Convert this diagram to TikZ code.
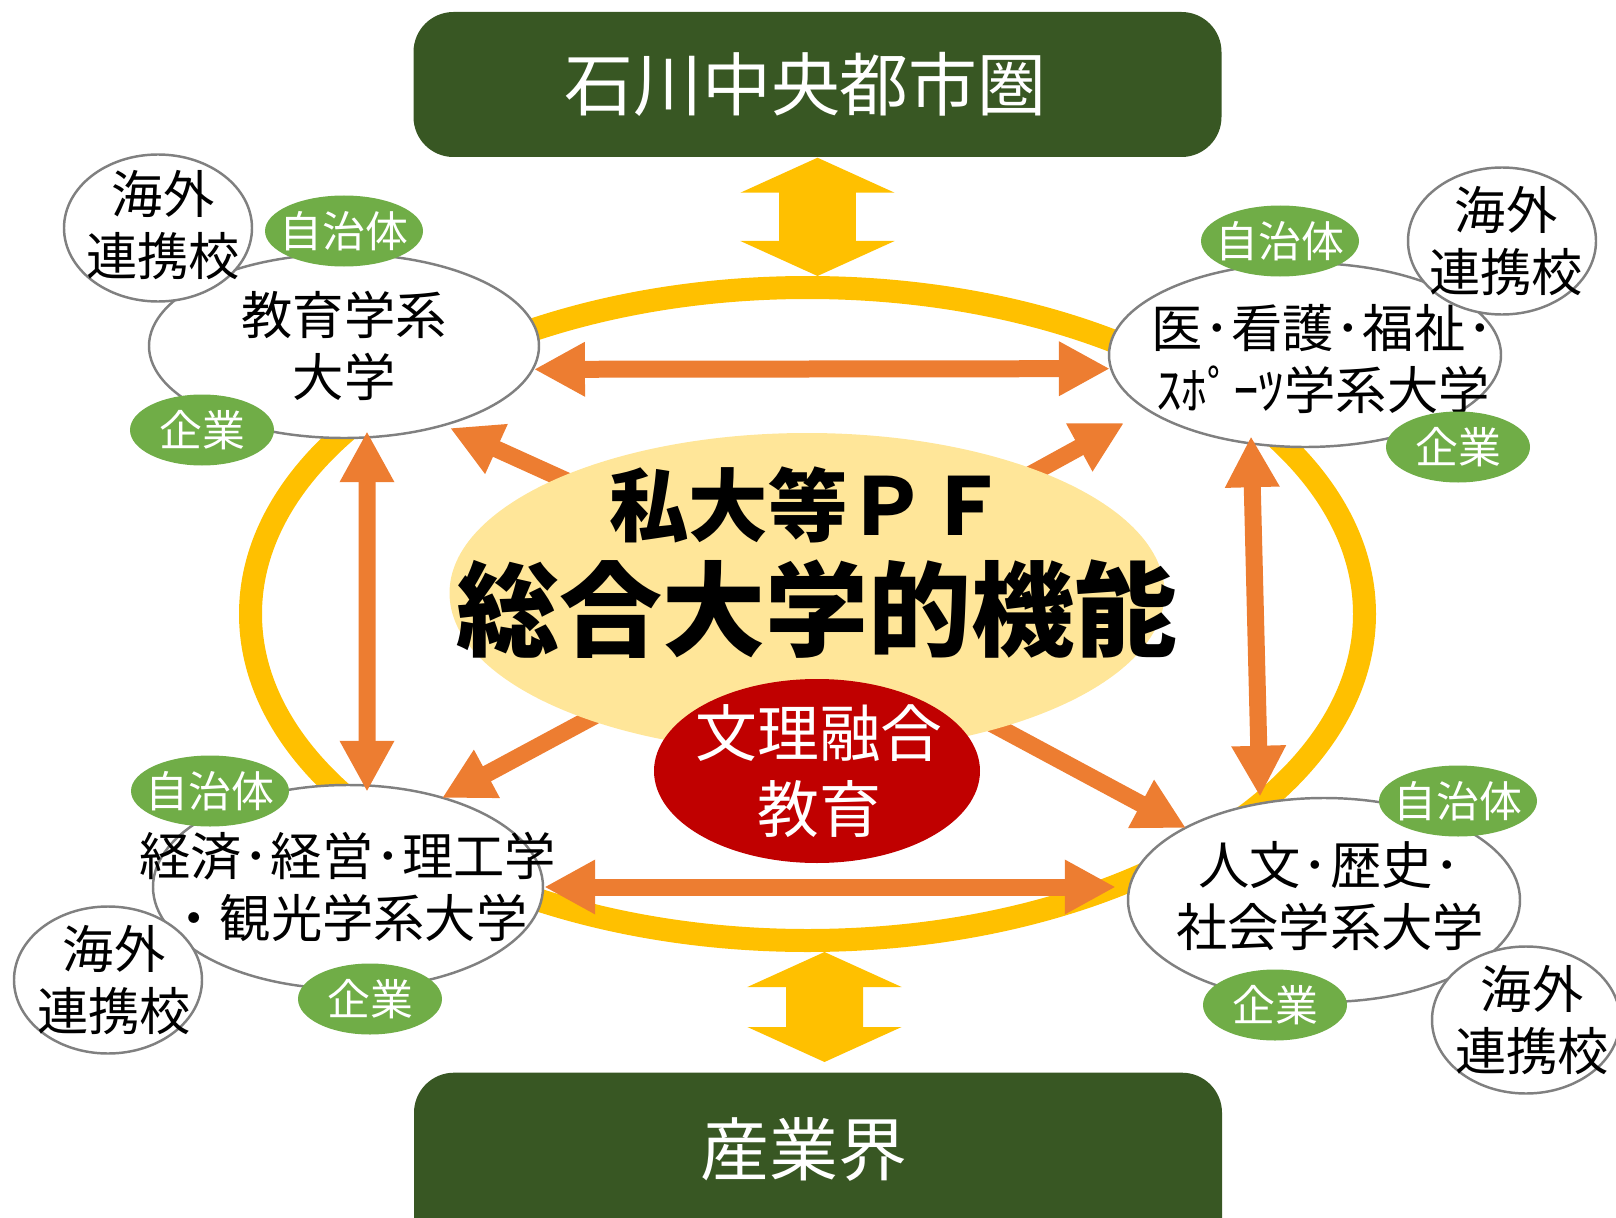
\documentclass[tikz,border=0pt]{standalone}
\usepackage{fontspec}
\setmainfont{Noto Sans CJK JP}
\usepackage{tikz}
\usetikzlibrary{
        arrows.meta,
        shapes.geometric
    }
\definecolor{boxgreen}{HTML}{385723}
\definecolor{ringyellow}{HTML}{FFC000}
\definecolor{arroworange}{HTML}{ED7D31}
\definecolor{pfyellow}{HTML}{FFE699}
\definecolor{bunrired}{HTML}{C00000}
\definecolor{leafgreen}{HTML}{70AD47}
\definecolor{rimgray}{HTML}{808080}
\newcommand{\nk}{\kern0.03em ･\kern0.03em}
\tikzset{
    region/.style={rectangle,rounded corners=0.4cm,fill=boxgreen,minimum width=8.08cm},
    boxtext/.style={text=white,inner sep=0pt,font=\fontsize{19.6}{24}\selectfont},
    univ/.style={ellipse,draw=rimgray,line width=0.7pt,fill=white,inner sep=0pt,minimum width=3.9cm},
    univtext/.style={align=center,inner sep=0pt,font=\fontsize{14.6}{17.6}\selectfont},
    kaigai/.style={ellipse,draw=rimgray,line width=0.7pt,fill=white,inner sep=0pt,minimum width=1.88cm,minimum height=1.47cm},
    leaf/.style={ellipse,fill=leafgreen,inner sep=0pt,minimum width=1.58cm,minimum height=0.71cm},
    leaftext/.style={text=white,inner sep=0pt,font=\fontsize{12.2}{14}\selectfont},
    updown/.style={ringyellow,line width=0.77cm,{Triangle[width=1.53cm,length=0.35cm]}-{Triangle[width=1.53cm,length=0.35cm]}},
    oboth/.style={arroworange,line width=0.17cm,{Triangle[width=0.51cm,length=0.51cm]}-{Triangle[width=0.51cm,length=0.51cm]}},
    oone/.style={arroworange,line width=0.17cm,shorten <=-0.2cm,-{Triangle[width=0.51cm,length=0.51cm]}}
}
\begin{document}
\begin{tikzpicture}
        \useasboundingbox (0,0) rectangle (16.16,12.17);
        \node[draw=ringyellow,line width=0.23cm,ellipse,inner sep=0pt,minimum width=11.14cm,minimum height=6.53cm] (ring) at (8.075,6.03) {};
        \node[region,minimum height=1.45cm,label={[boxtext,xshift=-0.12cm]center:石川中央都市圏}] (toshi) at (8.175,11.325) {};
        \node[region,minimum height=1.9cm,anchor=north,label={[boxtext,xshift=-0.14cm,yshift=0.18cm]center:産業界}] (sangyo) at (8.18,1.45) {};
        \draw[updown] (toshi.south) -- ([xshift=0.1cm]ring.north);
        \draw[updown] ([xshift=0.065cm,yshift=0.1cm]sangyo.north) -- ([xshift=0.17cm]ring.south);

        \node[univ,minimum height=1.84cm,label={[univtext]center:教育学系\\大学}] (kyoiku) at (3.44,8.71) {};
        \node[univ,minimum width=3.92cm,minimum height=1.84cm,label={[univtext,xshift=0.18cm,yshift=-0.04cm]center:医\nk{}看護\nk{}福祉\nk{}\\ｽﾎﾟｰﾂ学系大学}] (ikango) at (13.05,8.62) {};
        \node[univ,minimum height=2.04cm,label={[univtext]center:経済\nk{}経営\nk{}理工学\\・観光学系大学}] (keizai) at (3.48,3.30) {};
        \node[univ,minimum width=3.92cm,minimum height=2.04cm,label={[univtext,xshift=0.06cm,yshift=0.04cm]center:人文\nk{}歴史\nk{}\\社会学系大学}] (jinbun) at (13.24,3.17) {};

        \node[kaigai,label={[univtext,xshift=0.05cm,yshift=0.03cm]center:海外\\連携校}] (kaigaiUL) at (1.58,9.89) {};
        \node[kaigai,label={[univtext,xshift=0.04cm]center:海外\\連携校}] (kaigaiUR) at (15.02,9.76) {};
        \node[kaigai,label={[univtext,xshift=0.06cm]center:海外\\連携校}] (kaigaiLL) at (1.08,2.37) {};
        \node[kaigai,label={[univtext,xshift=0.06cm]center:海外\\連携校}] (kaigaiLR) at (15.26,1.97) {};

        \node[leaf,label={[leaftext]center:自治体}] (jichiUL) at (3.44,9.86) {};
        \node[leaf,minimum width=1.44cm,label={[leaftext]center:企業}] (kigyoUL) at (2.02,7.87) {};
        \node[leaf,label={[leaftext]center:自治体}] (jichiUR) at (12.80,9.76) {};
        \node[leaf,minimum width=1.44cm,label={[leaftext]center:企業}] (kigyoUR) at (14.58,7.70) {};
        \node[leaf,label={[leaftext]center:自治体}] (jichiLL) at (2.10,4.26) {};
        \node[leaf,minimum width=1.44cm,label={[leaftext]center:企業}] (kigyoLL) at (3.70,2.18) {};
        \node[leaf,label={[leaftext]center:自治体}] (jichiLR) at (14.58,4.16) {};
        \node[leaf,minimum width=1.44cm,label={[leaftext]center:企業}] (kigyoLR) at (12.75,2.12) {};

        % arrows out of the centre start under the yellow ellipse
        \coordinate (tipUL) at (4.50,7.89);
        \coordinate (tipUR) at (11.24,7.94);
        \coordinate (tipLL) at (4.42,4.19);
        \coordinate (tipLR) at (11.86,3.89);
        \node[ellipse,inner sep=0pt,minimum width=7.15cm,minimum height=3.2cm] (pf) at (8.07,6.24) {};
        \draw[oone] (pf.155) -- (tipUL);
        \draw[oone] (pf.28) -- (tipUR);
        \draw[oone] (pf.210) -- (tipLL);
        \draw[oone] (pf.-35) -- (tipLR);
        \fill[pfyellow] (pf.center) ellipse (3.575cm and 1.6cm);

        \node[ellipse,fill=bunrired,inner sep=0pt,minimum width=3.26cm,minimum height=1.84cm,label={[text=white,align=center,inner sep=0pt,font=\fontsize{17.6}{21.6}\selectfont,xshift=0.02cm]center:文理融合\\教育}] (bunri) at (8.17,4.46) {};
        \node[font=\bfseries\fontsize{22.6}{27}\selectfont] (shidai) at (8.08,7.12) {私大等ＰＦ};
        \node[font=\bfseries\fontsize{29.3}{35}\selectfont] (sogo) at (8.17,6.08) {総合大学的機能};

        \draw[oboth] (kyoiku.-7) -- (ikango.184);
        \draw[oboth,shorten >=0.11cm] (keizai.east) -- (keizai.east -| jinbun.west);
        \draw[oboth] ([xshift=0.23cm,yshift=0.08cm]kyoiku.south) -- ([xshift=0.19cm,yshift=-0.08cm]keizai.north);
        \draw[oboth] ([xshift=-0.54cm,yshift=0.12cm]ikango.south) -- ([xshift=-0.64cm]jinbun.north);
    \end{tikzpicture}
\end{document}
